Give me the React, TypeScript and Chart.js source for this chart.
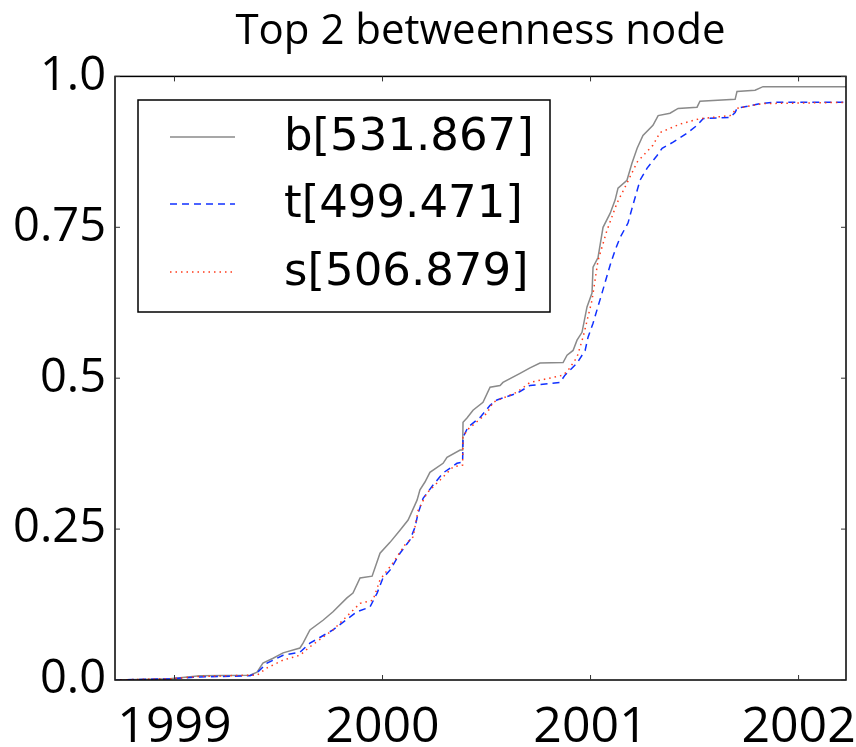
import React, { useEffect, useRef } from "react";
import { Chart, registerables } from "chart.js";

Chart.register(...registerables);

const chartTitle = "Top 2 betweenness node";
const seriesNames = ["b[531.867]", "t[499.471]", "s[506.879]"];

const xTickValues = [1999, 2000, 2001, 2002];
const xTickLabels = ["1999", "2000", "2001", "2002"];
const yTickValues = [0, 0.25, 0.5, 0.75, 1.0];
const yTickLabels = ["0.0", "0.25", "0.5", "0.75", "1.0"];

const bX = [1998.714, 1998.978, 1999.123, 1999.363, 1999.397, 1999.425, 1999.474, 1999.522, 1999.603, 1999.618, 1999.651, 1999.714, 1999.762, 1999.829, 1999.858, 1999.892, 1999.950, 1999.988, 2000.036, 2000.084, 2000.123, 2000.166, 2000.180, 2000.204, 2000.228, 2000.291, 2000.310, 2000.373, 2000.385, 2000.387, 2000.406, 2000.435, 2000.483, 2000.517, 2000.565, 2000.579, 2000.661, 2000.709, 2000.757, 2000.868, 2000.887, 2000.916, 2000.935, 2000.959, 2000.983, 2001.007, 2001.012, 2001.036, 2001.060, 2001.094, 2001.118, 2001.132, 2001.175, 2001.199, 2001.224, 2001.252, 2001.300, 2001.325, 2001.382, 2001.421, 2001.512, 2001.526, 2001.695, 2001.704, 2001.791, 2001.829, 2002.233];
const bY = [0.000, 0.002, 0.007, 0.008, 0.013, 0.028, 0.036, 0.045, 0.053, 0.061, 0.083, 0.099, 0.113, 0.136, 0.144, 0.169, 0.172, 0.210, 0.228, 0.248, 0.265, 0.298, 0.315, 0.328, 0.344, 0.359, 0.369, 0.381, 0.381, 0.427, 0.434, 0.447, 0.460, 0.485, 0.488, 0.493, 0.508, 0.517, 0.525, 0.526, 0.538, 0.546, 0.563, 0.576, 0.618, 0.641, 0.684, 0.700, 0.750, 0.773, 0.795, 0.815, 0.828, 0.856, 0.881, 0.902, 0.919, 0.935, 0.939, 0.947, 0.949, 0.959, 0.962, 0.975, 0.977, 0.983, 0.983];

const tX = [1998.714, 1998.978, 1999.123, 1999.363, 1999.397, 1999.445, 1999.522, 1999.603, 1999.651, 1999.762, 1999.877, 1999.940, 1999.974, 2000.002, 2000.036, 2000.084, 2000.132, 2000.156, 2000.171, 2000.195, 2000.243, 2000.291, 2000.358, 2000.385, 2000.387, 2000.411, 2000.469, 2000.517, 2000.550, 2000.647, 2000.709, 2000.853, 2000.877, 2000.935, 2000.974, 2000.988, 2001.012, 2001.055, 2001.094, 2001.118, 2001.142, 2001.180, 2001.199, 2001.238, 2001.272, 2001.320, 2001.344, 2001.397, 2001.464, 2001.512, 2001.541, 2001.671, 2001.695, 2001.704, 2001.815, 2001.877, 2002.233];
const tY = [0.000, 0.002, 0.005, 0.007, 0.012, 0.028, 0.041, 0.046, 0.061, 0.083, 0.113, 0.121, 0.144, 0.169, 0.182, 0.210, 0.232, 0.253, 0.276, 0.301, 0.323, 0.343, 0.359, 0.361, 0.402, 0.419, 0.435, 0.455, 0.464, 0.475, 0.488, 0.493, 0.505, 0.525, 0.546, 0.568, 0.591, 0.641, 0.687, 0.712, 0.733, 0.757, 0.781, 0.828, 0.848, 0.869, 0.881, 0.891, 0.906, 0.919, 0.930, 0.932, 0.940, 0.947, 0.955, 0.957, 0.957];

const sX = [1998.714, 1998.978, 1999.123, 1999.363, 1999.397, 1999.445, 1999.522, 1999.603, 1999.651, 1999.762, 1999.892, 1999.954, 1999.988, 2000.050, 2000.108, 2000.147, 2000.171, 2000.214, 2000.276, 2000.339, 2000.385, 2000.387, 2000.406, 2000.502, 2000.531, 2000.647, 2000.709, 2000.868, 2000.892, 2000.935, 2000.964, 2001.007, 2001.036, 2001.079, 2001.127, 2001.175, 2001.224, 2001.300, 2001.334, 2001.430, 2001.526, 2001.671, 2001.704, 2001.829, 2002.233];
const sY = [0.000, 0.002, 0.006, 0.008, 0.008, 0.020, 0.033, 0.041, 0.055, 0.083, 0.127, 0.132, 0.166, 0.194, 0.224, 0.237, 0.281, 0.310, 0.331, 0.353, 0.356, 0.402, 0.414, 0.442, 0.460, 0.477, 0.493, 0.505, 0.513, 0.535, 0.568, 0.629, 0.695, 0.745, 0.790, 0.823, 0.858, 0.886, 0.907, 0.921, 0.930, 0.935, 0.947, 0.955, 0.957];

const X_MIN = 1998.714;
const X_MAX = 2002.228;

const FONT = "'Open Sans', 'DejaVu Sans', sans-serif";
const LEGEND_FONT = "'DejaVu Sans', sans-serif";

const toPoints = (xs: number[], ys: number[]) => xs.map((x, i) => ({ x, y: ys[i] }));

const framePlugin = {
  id: "frame",
  afterDraw(chart: any) {
    const { ctx, chartArea, scales } = chart;
    const { left, right, top, bottom } = chartArea;
    ctx.save();
    ctx.strokeStyle = "#000";
    ctx.lineWidth = 1.5;
    ctx.strokeRect(left, top, right - left, bottom - top);
    ctx.lineWidth = 1;
    ctx.strokeStyle = "#333";
    const tl = 5;
    xTickValues.forEach((v) => {
      const px = scales.x.getPixelForValue(v);
      ctx.beginPath();
      ctx.moveTo(px, bottom);
      ctx.lineTo(px, bottom - tl);
      ctx.moveTo(px, top);
      ctx.lineTo(px, top + tl);
      ctx.stroke();
    });
    yTickValues.forEach((v) => {
      const py = scales.y.getPixelForValue(v);
      ctx.beginPath();
      ctx.moveTo(left, py);
      ctx.lineTo(left + tl, py);
      ctx.moveTo(right, py);
      ctx.lineTo(right - tl, py);
      ctx.stroke();
    });

    // legend
    const lx = 138, ly = 100, lw = 412, lh = 212;
    ctx.fillStyle = "#fff";
    ctx.fillRect(lx, ly, lw, lh);
    ctx.strokeStyle = "#000";
    ctx.lineWidth = 1.5;
    ctx.strokeRect(lx, ly, lw, lh);
    const rows = [137, 204, 272];
    chart.data.datasets.forEach((ds: any, i: number) => {
      const y = rows[i];
      ctx.save();
      ctx.strokeStyle = ds.borderColor;
      ctx.lineWidth = ds.borderWidth;
      ctx.setLineDash(ds.borderDash || []);
      ctx.beginPath();
      ctx.moveTo(170, y);
      ctx.lineTo(235, y);
      ctx.stroke();
      ctx.restore();
      ctx.fillStyle = "#000";
      ctx.font = `45px ${LEGEND_FONT}`;
      ctx.textBaseline = "middle";
      ctx.textAlign = "left";
      ctx.fillText(ds.label, 284, y + 1);
    });
    ctx.restore();
  },
};

export default function App() {
  const canvasRef = useRef<HTMLCanvasElement | null>(null);

  useEffect(() => {
    document.body.style.margin = "0";
    const canvas = canvasRef.current;
    if (!canvas) return;
    const chart = new Chart(canvas, {
      type: "line",
      data: {
        datasets: [
          {
            label: seriesNames[0],
            data: toPoints(bX, bY),
            borderColor: "#8a8a8a",
            borderWidth: 1.5,
            pointRadius: 0,
            tension: 0,
            fill: false,
            order: 3,
          },
          {
            label: seriesNames[1],
            data: toPoints(tX, tY),
            borderColor: "#1030ff",
            borderWidth: 1.5,
            borderDash: [7, 5],
            pointRadius: 0,
            tension: 0,
            fill: false,
            order: 2,
          },
          {
            label: seriesNames[2],
            data: toPoints(sX, sY),
            borderColor: "#ff3a1a",
            borderWidth: 1.5,
            borderDash: [1.5, 4],
            pointRadius: 0,
            tension: 0,
            fill: false,
            order: 1,
          },
        ],
      },
      options: {
        responsive: false,
        animation: false,
        devicePixelRatio: 1,
        layout: { padding: { left: 0, right: 10, top: 0, bottom: 0 } },
        plugins: {
          legend: { display: false },
          tooltip: { enabled: false },
          title: {
            display: true,
            fullSize: false,
            text: chartTitle,
            color: "#000",
            font: { family: FONT, size: 42, weight: "normal", lineHeight: 1.2 },
            padding: { top: 7, bottom: 19 },
          },
        },
        scales: {
          x: {
            type: "linear",
            min: X_MIN,
            max: X_MAX,
            position: "bottom",
            grid: { display: false },
            border: { display: false },
            ticks: {
              color: "#000",
              font: { family: FONT, size: 50 },
              padding: 10,
              autoSkip: false,
              maxRotation: 0,
              callback: (v: any) => {
                const i = xTickValues.indexOf(Number(v));
                return i >= 0 ? xTickLabels[i] : "";
              },
            },
            afterBuildTicks: (scale: any) => {
              scale.ticks = xTickValues.map((v) => ({ value: v }));
            },
            afterFit: (scale: any) => {
              scale.height = 67;
              scale.paddingLeft = 0;
              scale.paddingRight = 0;
            },
          },
          y: {
            type: "linear",
            min: 0,
            max: 1,
            grid: { display: false },
            border: { display: false },
            ticks: {
              color: "#000",
              font: { family: FONT, size: 47 },
              padding: 1,
              autoSkip: false,
              callback: (v: any) => {
                const i = yTickValues.indexOf(Number(v));
                return i >= 0 ? yTickLabels[i] : "";
              },
            },
            afterBuildTicks: (scale: any) => {
              scale.ticks = yTickValues.map((v) => ({ value: v }));
            },
            afterFit: (scale: any) => {
              scale.width = 115;
              scale.paddingTop = 0;
              scale.paddingBottom = 0;
            },
          },
        },
      },
      plugins: [framePlugin],
    });
    return () => chart.destroy();
  }, []);

  return (
    <div style={{ width: 856, height: 747 }}>
      <canvas ref={canvasRef} width={856} height={747} />
    </div>
  );
}
